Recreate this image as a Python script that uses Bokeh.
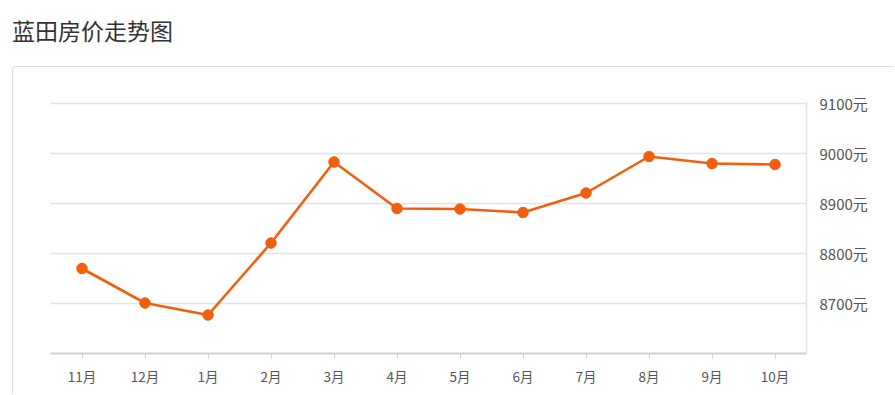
from bokeh.plotting import figure
from bokeh.models import Div, FactorRange, Range1d, FixedTicker
from bokeh.layouts import column
from bokeh.embed import file_html
from bokeh.resources import INLINE

title_text = "蓝田房价走势图"
months = ["11月", "12月", "1月", "2月", "3月", "4月", "5月", "6月", "7月", "8月", "9月", "10月"]
prices = [8770, 8701, 8677, 8821, 8983, 8890, 8889, 8882, 8921, 8994, 8980, 8978]
y_ticks = [8700, 8800, 8900, 9000, 9100]
y_tick_labels = ["8700元", "8800元", "8900元", "9000元", "9100元"]

FONT = "Noto Sans CJK SC"
ORANGE = "#f25f0c"

head = Div(
    text=title_text,
    width=895, height=66, margin=0,
    styles={"font-size": "23px", "color": "#333333", "font-family": FONT,
            "padding-left": "12px", "padding-top": "14px", "box-sizing": "border-box"},
)

p = figure(
    x_range=FactorRange(*months), y_range=Range1d(8600, 9104),
    width=882, height=328, y_axis_location="right",
    output_backend="svg", toolbar_location=None,
    min_border_left=37, min_border_right=89, min_border_top=34, min_border_bottom=42,
    margin=(0, 0, 0, 12),
    styles={"border-left": "1px solid #dddddd", "border-top": "1px solid #dddddd",
            "border-top-left-radius": "4px"},
)
p.outline_line_color = None

p.line(months, prices, line_color=ORANGE, line_width=2.6)
p.scatter(months, prices, size=10.5, fill_color=ORANGE, line_color=ORANGE)

p.xgrid.grid_line_color = None
p.ygrid.ticker = FixedTicker(ticks=y_ticks)
p.ygrid.grid_line_color = "#e3e3e3"
p.ygrid.grid_line_width = 1.5

ya = p.yaxis[0]
ya.ticker = FixedTicker(ticks=y_ticks)
ya.major_label_overrides = dict(zip(y_ticks, y_tick_labels))
ya.axis_line_color = "#e3e3e3"
ya.axis_line_width = 1.5
ya.major_tick_line_color = None
ya.major_tick_out = 0
ya.major_tick_in = 0
ya.minor_tick_line_color = None
ya.minor_tick_out = 0
ya.major_label_standoff = 13
ya.major_label_text_font = FONT
ya.major_label_text_font_size = "15px"
ya.major_label_text_color = "#555555"

xa = p.xaxis[0]
xa.axis_line_color = "#cfcfcf"
xa.axis_line_width = 2
xa.major_tick_line_color = "#cfcfcf"
xa.major_tick_out = 5
xa.major_tick_in = 0
xa.major_label_standoff = 7
xa.major_label_text_font = FONT
xa.major_label_text_font_size = "13.5px"
xa.major_label_text_color = "#555555"

layout = column(head, p, spacing=0)
open("out.html", "w").write(file_html(layout, INLINE))
